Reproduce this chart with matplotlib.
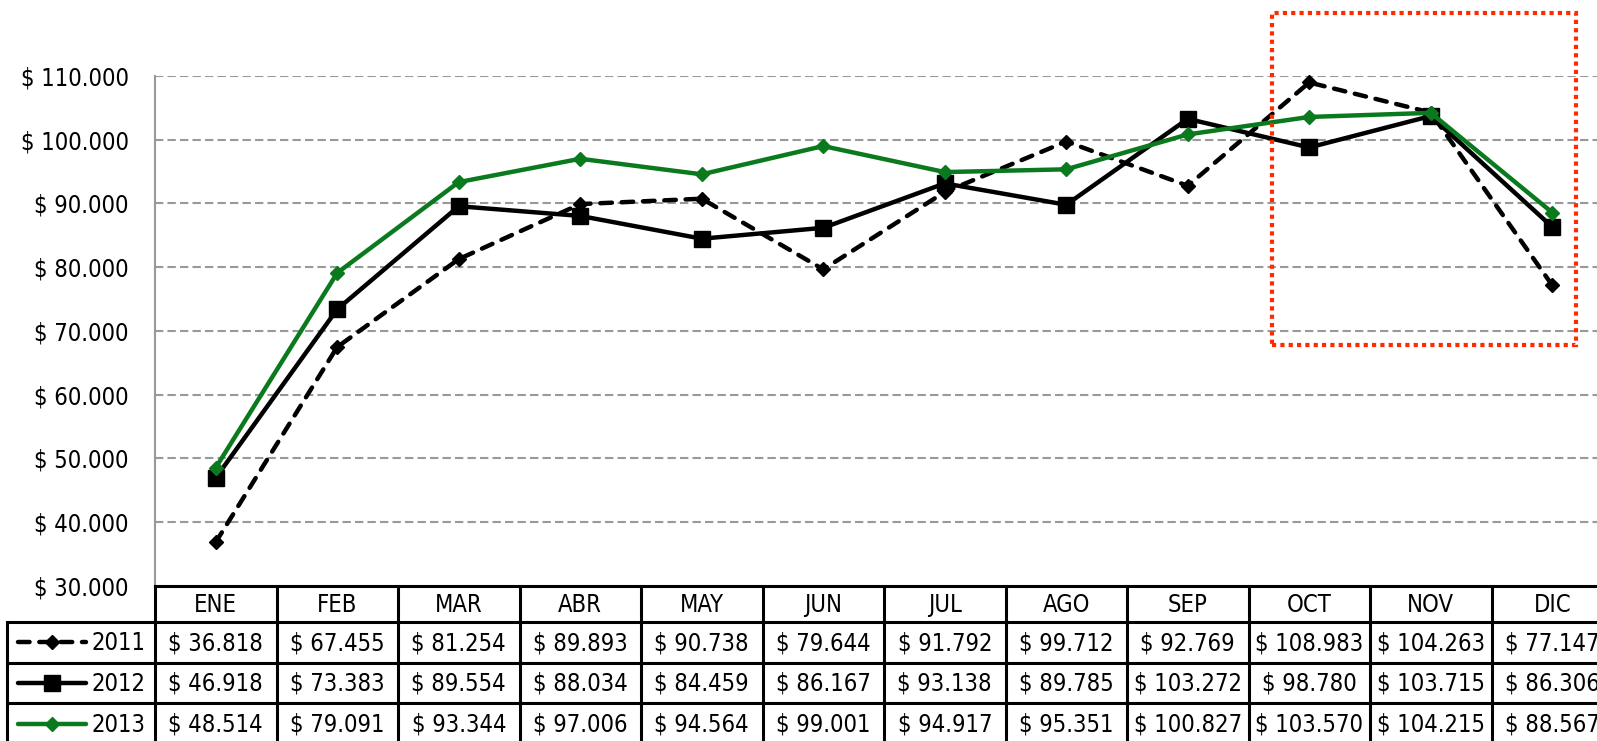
import matplotlib
matplotlib.use("Agg")
import matplotlib.pyplot as plt
from matplotlib.patches import Rectangle
from matplotlib.lines import Line2D

# ---------------- data ----------------
months = ["ENE", "FEB", "MAR", "ABR", "MAY", "JUN", "JUL", "AGO", "SEP", "OCT", "NOV", "DIC"]
years = ["2011", "2012", "2013"]
v2011 = [36818, 67455, 81254, 89893, 90738, 79644, 91792, 99712, 92769, 108983, 104263, 77147]
v2012 = [46918, 73383, 89554, 88034, 84459, 86167, 93138, 89785, 103272, 98780, 103715, 86306]
v2013 = [48514, 79091, 93344, 97006, 94564, 99001, 94917, 95351, 100827, 103570, 104215, 88567]
yticks = [30000, 40000, 50000, 60000, 70000, 80000, 90000, 100000, 110000]

series = [
    dict(label="2011", values=v2011, color="black", ls=(0, (2.6, 2.2)), marker="D", ms=7.5, lw=3.2),
    dict(label="2012", values=v2012, color="black", ls="-", marker="s", ms=11.5, lw=3.2),
    dict(label="2013", values=v2013, color="#0b7a1e", ls="-", marker="D", ms=7, lw=3.2),
]

def money(v):
    return "$ " + f"{v:,}".replace(",", ".")

FONT = dict(family="DejaVu Sans", stretch="condensed")
FS = 17

# ---------------- layout (pixels) ----------------
W, H = 1597, 741
PL, COLW = 155, 121.5
PR = PL + 12 * COLW
PT, PB = 76, 585.6
TL = 7
ROWS = [PB, 622, 662.5, 703, 744]

def fx(px):
    return px / W

def fy(py):
    return 1 - py / H

fig = plt.figure(figsize=(W / 100, H / 100), dpi=100)

ax = fig.add_axes([fx(PL), fy(PB), (PR - PL) / W, (PB - PT) / H])
x = list(range(len(months)))
for s in series:
    ax.plot(x, s["values"], color=s["color"], linestyle=s["ls"], linewidth=s["lw"],
            marker=s["marker"], markersize=s["ms"], markerfacecolor=s["color"],
            markeredgecolor=s["color"], solid_capstyle="round", dash_capstyle="round",
            zorder=3, clip_on=False)
ax.set_xlim(-0.5, len(months) - 0.5)
ax.set_ylim(yticks[0], yticks[-1])
ax.set_yticks(yticks)
ax.set_yticklabels([money(t) for t in yticks], fontsize=FS, **FONT)
ax.set_xticks([])
ax.tick_params(axis="y", length=0, pad=19)
for t in yticks[1:]:
    ax.axhline(t, color="#999999", linewidth=1.5, linestyle=(0, (4, 2)), zorder=1)
for side in ["top", "right", "bottom"]:
    ax.spines[side].set_visible(False)
ax.spines["left"].set_color("#999999")
ax.spines["left"].set_linewidth(1.5)

# ---------------- data table ----------------
tab = fig.add_axes([fx(TL), fy(ROWS[-1]), (PR - TL) / W, (ROWS[-1] - PB) / H])
xmin = -0.5 - (PL - TL) / COLW
tab.set_xlim(xmin, len(months) - 0.5)
tab.set_ylim(ROWS[-1], PB)
tab.axis("off")
LW = 2.2
tab.plot([-0.5, len(months) - 0.5], [ROWS[0], ROWS[0]], color="black", lw=LW, clip_on=False)
for r in ROWS[1:]:
    tab.plot([xmin, len(months) - 0.5], [r, r], color="black", lw=LW, clip_on=False)
for k in range(len(months) + 1):
    tab.plot([k - 0.5, k - 0.5], [ROWS[0], ROWS[-1]], color="black", lw=LW, clip_on=False)
tab.plot([xmin, xmin], [ROWS[1], ROWS[-1]], color="black", lw=LW, clip_on=False)

hc = (ROWS[0] + ROWS[1]) / 2
for i, m in enumerate(months):
    tab.text(i, hc + 1, m, ha="center", va="center", fontsize=FS, **FONT)

def px2x(px):
    return (px - PL) / COLW - 0.5

for r, s in enumerate(series):
    yc = (ROWS[r + 1] + ROWS[r + 2]) / 2
    for i, v in enumerate(s["values"]):
        tab.text(i, yc + 1, money(v), ha="center", va="center", fontsize=FS, **FONT)
    tab.add_line(Line2D([px2x(18), px2x(86)], [yc, yc], color=s["color"], linestyle=s["ls"],
                        linewidth=s["lw"], solid_capstyle="round", dash_capstyle="round"))
    tab.plot([px2x(52)], [yc], marker=s["marker"], markersize=s["ms"], color=s["color"])
    tab.text(px2x(145), yc + 1, s["label"], ha="right", va="center", fontsize=FS, **FONT)

# ---------------- highlight box ----------------
fig.patches.append(Rectangle((fx(1272), fy(345)), (1576 - 1272) / W, (345 - 13) / H,
                             transform=fig.transFigure, fill=False, edgecolor="#ff2a00",
                             linewidth=3, linestyle=(0, (1, 1))))

fig.savefig("out.png", dpi=100)
